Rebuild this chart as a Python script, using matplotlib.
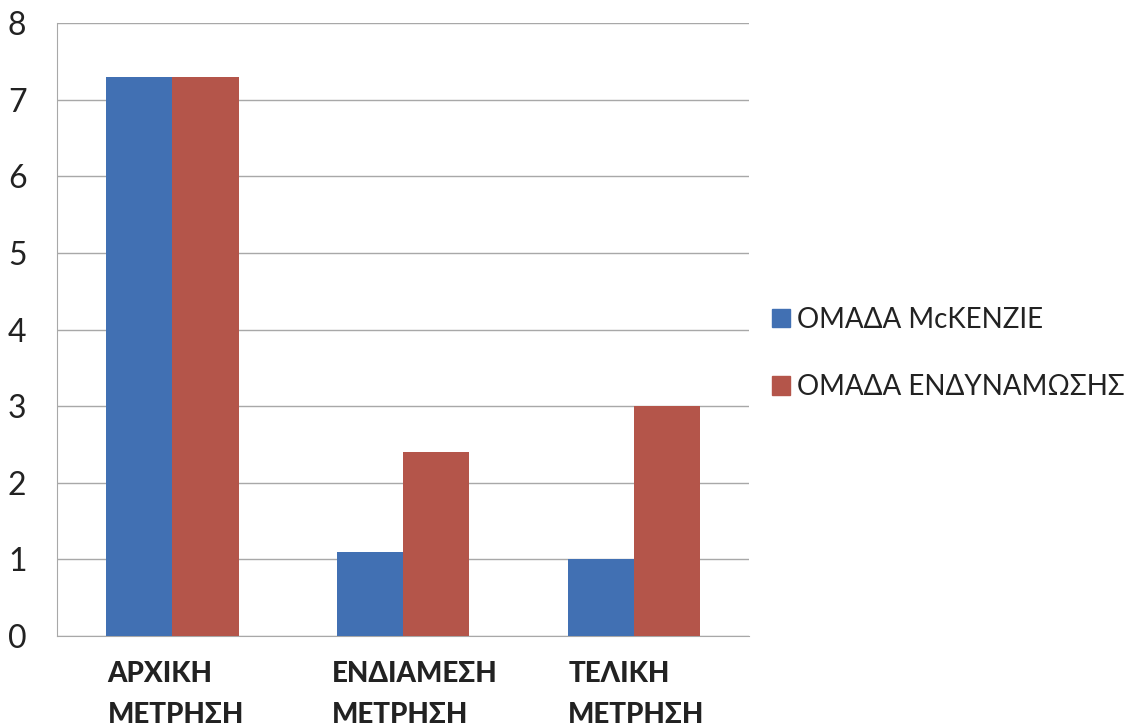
import numpy as np
import matplotlib.pyplot as plt
from matplotlib.patches import Patch

plt.rcParams['font.family'] = ['Lato', 'Open Sans', 'DejaVu Sans']

categories = ["ΑΡΧΙΚΗ\nΜΕΤΡΗΣΗ", "ΕΝΔΙΑΜΕΣΗ\nΜΕΤΡΗΣΗ", "ΤΕΛΙΚΗ\nΜΕΤΡΗΣΗ"]
series_names = ["ΟΜΑΔΑ McKENZIE", "ΟΜΑΔΑ ΕΝΔΥΝΑΜΩΣΗΣ"]
mckenzie = [7.3, 1.1, 1.0]
strength = [7.3, 2.4, 3.0]
colors = ["#4170B3", "#B4554A"]

fig = plt.figure(figsize=(11.46, 7.26), dpi=100)
ax = fig.add_axes([0.0497, 0.124, 0.6043, 0.844])

x = np.arange(len(categories))
w = 0.287
ax.bar(x - w / 2, mckenzie, w, color=colors[0], zorder=3)
ax.bar(x + w / 2, strength, w, color=colors[1], zorder=3)

ax.set_xlim(-0.5, 2.5)
ax.set_ylim(0, 8)
ax.set_yticks(range(9))
ax.yaxis.grid(True, color="#a8a8a8", linewidth=1, zorder=0)
ax.tick_params(axis="y", length=0, pad=22, labelsize=23, colors="#222222")
ax.set_xticks([])
for s in ["top", "right"]:
    ax.spines[s].set_visible(False)
ax.spines["left"].set_color("#a8a8a8")
ax.spines["bottom"].set_color("#a8a8a8")

# category labels, left aligned a bit left of the group centre
offsets = [-0.28, -0.31, -0.285]
for i, lab in enumerate(categories):
    ax.text(i + offsets[i], -0.33, lab, ha="left", va="top", fontsize=20,
            fontweight="black", color="#222222", linespacing=1.7)

handles = [Patch(color=c) for c in colors]
fig.legend(handles, series_names, loc="center left",
           bbox_to_anchor=(0.652, 0.513), frameon=False, fontsize=20,
           handlelength=0.65, handleheight=0.65, handletextpad=0.25,
           labelspacing=1.5, labelcolor="#222222")

fig.savefig("out.png", dpi=100)
